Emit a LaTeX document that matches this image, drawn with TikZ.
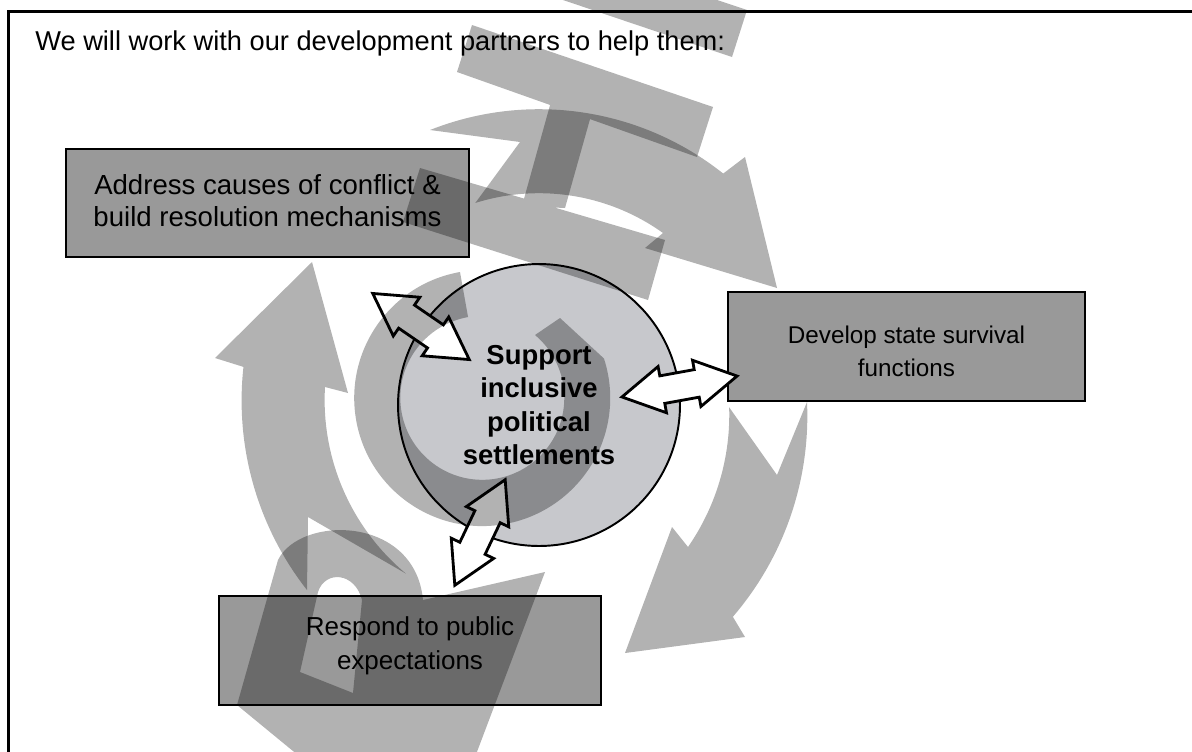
\documentclass[tikz,border=0pt]{standalone}
\usepackage{fontspec}
\setmainfont{Liberation Sans}
\usepackage{tikz}
\definecolor{hubgrey}{RGB}{199,200,204}

\begin{document}
\begin{tikzpicture}[x=0.02cm, y=-0.02cm,
  box/.style={draw, line width=1.3pt, fill=black!40, inner sep=0pt},
  boxtext/.style={inner sep=0pt, align=center},
  cyc/.style={fill=black!30},
  dbl/.style={draw, line width=1.6pt, fill=white},
  wm/.style={fill=black, fill opacity=0.3}]

\useasboundingbox (0,0) rectangle (1192,751);
\clip (0,0) rectangle (1192,751);

\draw[line width=1.5pt] (8.7,780) -- (8.7,11.3) -- (1220,11.3);

\node[anchor=base west, inner sep=0pt, font=\fontsize{15.5}{18}\selectfont] (title) at (35,50)
  {We will work with our development partners to help them:};

\fill[cyc] (430,130) arc[start angle=-111.6, end angle=-51.5, radius=296] -- (745,157) -- (777,288)
  -- (645,248) -- (663,233) arc[start angle=-54.4, end angle=-107.4, radius=213] -- (520,142) -- cycle;
\fill[cyc] (807,402) arc[start angle=-2.6, end angle=40.7, radius=308] -- (745,637) -- (625,653)
  -- (672,527) -- (688,547) arc[start angle=34.7, end angle=-1.9, radius=232] -- (777,475) -- cycle;
\fill[cyc] (307,590) arc[start angle=141.9, end angle=186.3, radius=307] -- (215,358) -- (312,262)
  -- (348,393) -- (325,387) arc[start angle=183.3, end angle=129.8, radius=226] -- (308,517) -- cycle;

\node[box, minimum width=8.06cm, minimum height=2.16cm] (addr) at (267.5,203) {};
\node[boxtext, font=\fontsize{15.7}{18.1}\selectfont] (addrtext) at (267.5,201)
  {Address causes of conflict \&\\build resolution mechanisms};
\node[box, minimum width=7.14cm, minimum height=2.18cm] (surv) at (906.5,346.5) {};
\node[boxtext, font=\fontsize{13.8}{18.7}\selectfont] (survtext) at (906.5,351.5)
  {Develop state survival\\functions};
\node[box, minimum width=7.64cm, minimum height=2.18cm] (resp) at (410,650.5) {};
\node[boxtext, font=\fontsize{14.8}{19.3}\selectfont] (resptext) at (410,645.5)
  {Respond to public\\expectations};

\node[circle, draw, line width=1.1pt, fill=hubgrey, minimum size=5.64cm, inner sep=0pt, align=center,
  font=\bfseries\fontsize{15.6}{18.9}\selectfont] (hub) at (539,405)
  {Support\\inclusive\\political\\settlements};

\foreach \cx/\cy/\ang in {421/326.5/-34.4, 679.5/386.5/10.3, 480/532.5/64.5}
{
\draw[dbl, shift={(\cx,\cy)}, rotate=\ang] (-58.5,0) -- (-17.5,-23.5) -- (-17.5,-14) -- (17.5,-14)
  -- (17.5,-23.5) -- (58.5,0) -- (17.5,23.5) -- (17.5,14) -- (-17.5,14) -- (-17.5,23.5) -- cycle;
}

\fill[wm] (474,-30) -- (628,-30) -- (747,10) -- (732,57) -- cycle;
\fill[wm] (472,25) -- (713,107) -- (697,157) -- (457,72) -- cycle
  (552,98) -- (592,112) -- (565,208) -- (522,206) -- cycle
  (420,168) -- (665,240) -- (648,300) -- (403,222) -- cycle;
\fill[wm] (460,272) arc[start angle=-100, end angle=-378, radius=128] -- (560,318)
  -- (535,335) arc[start angle=-410, end angle=-100, radius=82] -- cycle;
\fill[wm, even odd rule] (237,705) -- (278,560) .. controls (300,515) and (415,515) .. (423,600)
  -- (545,572) -- (472,765) -- (310,765) -- cycle
  (300,672) -- (318,592) .. controls (325,570) and (355,572) .. (362,600) -- (353,693) -- cycle;
\end{tikzpicture}
\end{document}
